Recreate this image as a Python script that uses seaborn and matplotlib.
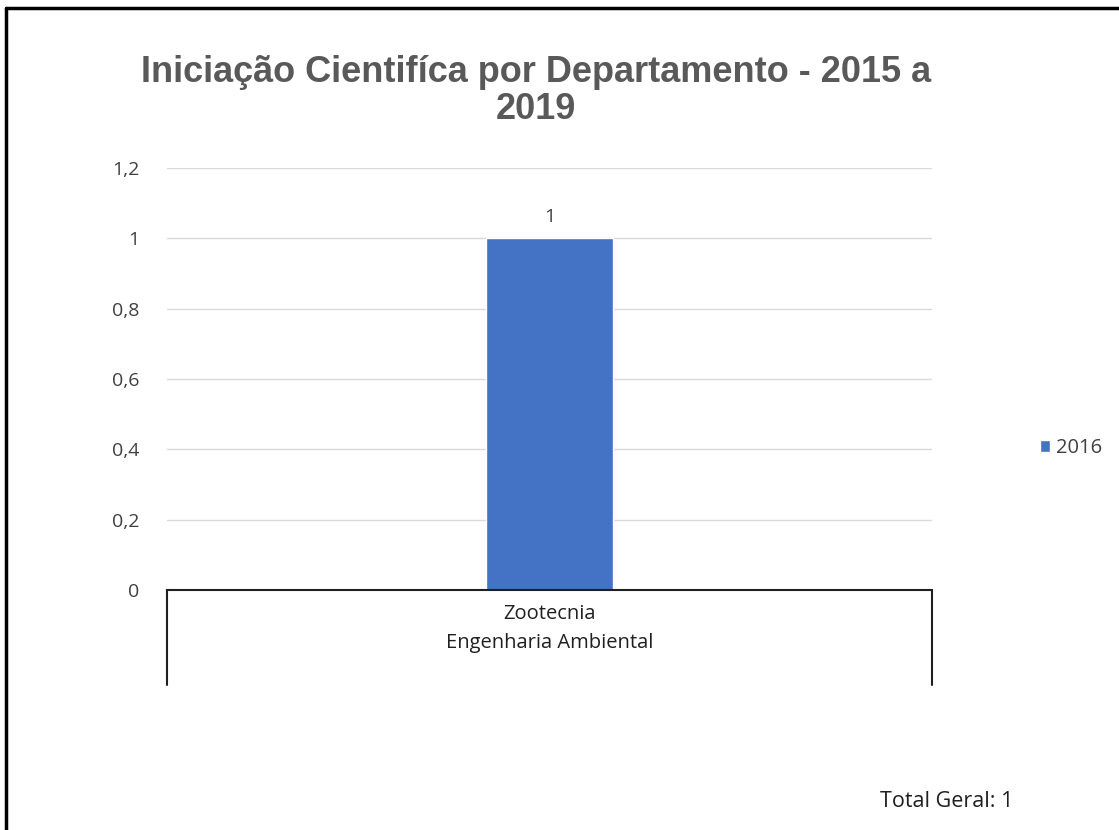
import matplotlib
matplotlib.use("Agg")
import matplotlib.pyplot as plt
import seaborn as sns
import pandas as pd
from matplotlib.lines import Line2D
from matplotlib.patches import Patch

departments = ["Zootecnia"]
groups = ["Engenharia Ambiental"]
years = ["2016"]
values = [1]
yticks = [0, 0.2, 0.4, 0.6, 0.8, 1.0, 1.2]
ytick_labels = ["0", "0,2", "0,4", "0,6", "0,8", "1", "1,2"]
total_label = "Total Geral: 1"
title = "Iniciação Cientifíca por Departamento - 2015 a\n2019"

df = pd.DataFrame({"Departamento": departments, "Ano": years, "Valor": values})

sns.set_theme(style="white")
plt.rcParams['font.family'] = ['Open Sans', 'DejaVu Sans']

W, H = 1119, 830
fig = plt.figure(figsize=(W / 100, H / 100), dpi=100)
ax = fig.add_axes([167 / W, 1 - 590 / H, (932 - 167) / W, (590 - 168) / H])

bar_color = "#4472C4"
sns.barplot(data=df, x="Departamento", y="Valor", color=bar_color, width=0.165,
            ax=ax, saturation=1)
ax.set_xlim(-0.5, 0.5)
ax.set_ylim(0, 1.2)
ax.set_yticks(yticks)
ax.set_yticklabels(ytick_labels, fontsize=14, color="#404040")
ax.tick_params(axis="y", length=0, pad=20)
ax.set_xticks([])
ax.set_xlabel("")
ax.set_ylabel("")
for y in yticks[1:]:
    ax.axhline(y, color="#D9D9D9", lw=1, zorder=0)
for s in ["top", "right", "left"]:
    ax.spines[s].set_visible(False)
ax.spines["bottom"].set_color("#202020")
ax.spines["bottom"].set_linewidth(1.5)

for p, v in zip(ax.patches, values):
    ax.text(p.get_x() + p.get_width() / 2, v + 0.035, f"{v}", ha="center", va="bottom",
            fontsize=14, color="#404040")

# category axis box
x0, x1 = 167 / W, 932 / W
yb_top, yb_bot = 1 - 590 / H, 1 - 685 / H
for xx in (x0, x1):
    fig.add_artist(Line2D([xx, xx], [yb_top, yb_bot], color="#202020", lw=1.5))
fig.text((x0 + x1) / 2, 1 - 614 / H, departments[0], ha="center", va="center",
         fontsize=14.5, color="#202020")
fig.text((x0 + x1) / 2, 1 - 643 / H, groups[0], ha="center", va="center",
         fontsize=14.5, color="#202020")

fig.text(536 / W, 1 - 91 / H, title, ha="center", va="center", fontsize=26,
         color="#595959", fontweight="bold", family=["Liberation Sans", "DejaVu Sans"],
         linespacing=1.08)

handles = [Patch(facecolor=bar_color, label=years[0])]
fig.legend(handles=handles, loc="center left", bbox_to_anchor=(1022 / W, 1 - 448 / H),
           frameon=False, fontsize=14.5, handlelength=0.5, handleheight=0.5,
           handletextpad=0.3, labelcolor="#404040")

fig.text(880 / W, 1 - 801 / H, total_label, ha="left", va="center", fontsize=15.5,
         color="#202020")

# outer frame
fig.add_artist(Line2D([6 / W, 6 / W], [0, 1 - 8 / H], color="black", lw=2.5))
fig.add_artist(Line2D([6 / W, 1], [1 - 8 / H, 1 - 8 / H], color="black", lw=2.5))

fig.savefig("out.png", dpi=100, facecolor="white")
